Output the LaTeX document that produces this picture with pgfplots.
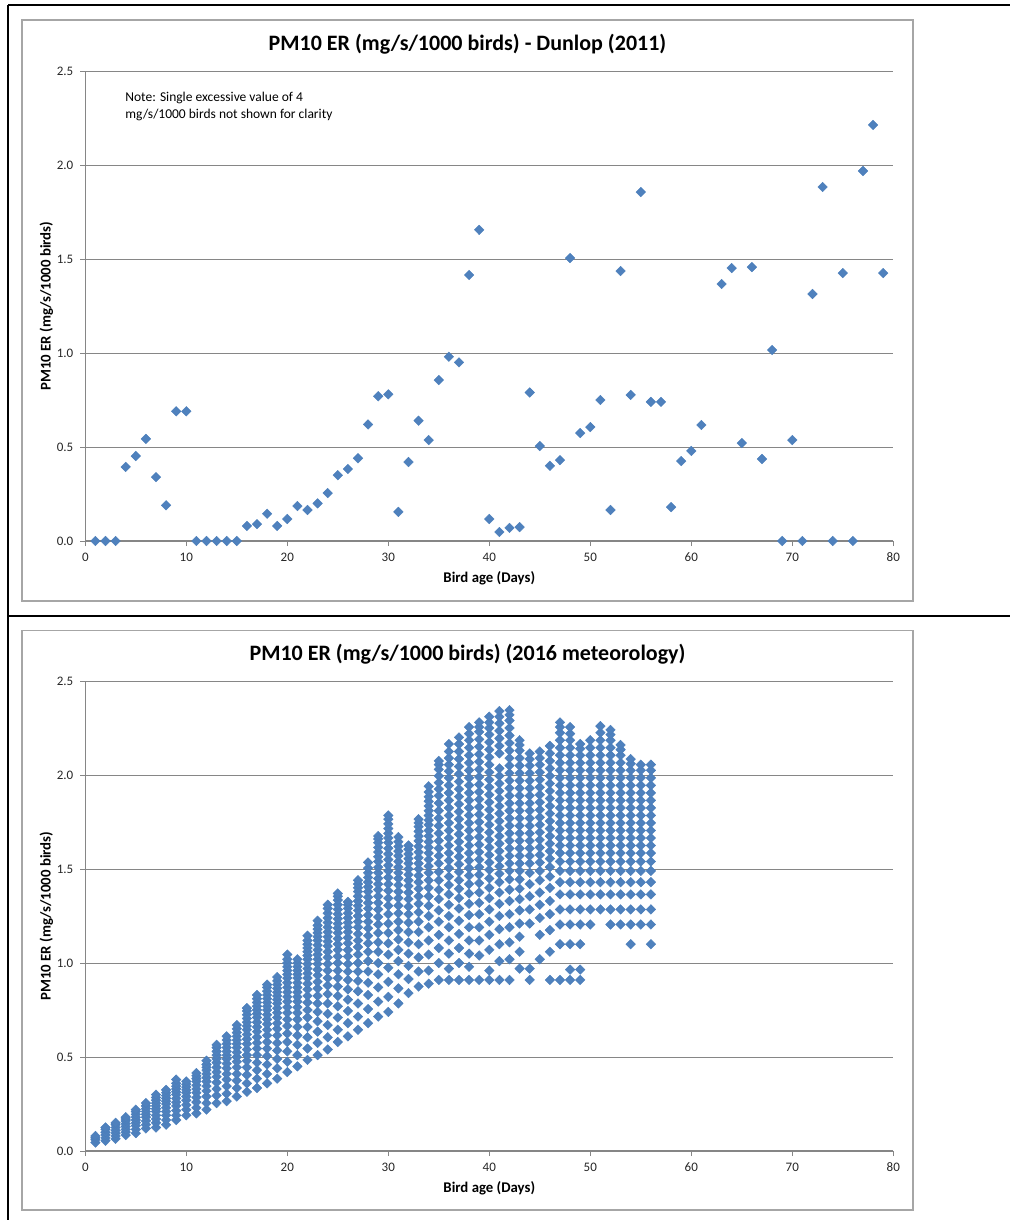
\documentclass[border=0pt]{standalone}
\usepackage{fontspec}
\setmainfont{Carlito}
\usepackage{pgfplots}
\pgfplotsset{compat=1.18}
\definecolor{mk}{HTML}{4F81BD}
\definecolor{mkedge}{HTML}{4A7EBB}
\definecolor{gridc}{HTML}{868686}
\definecolor{framec}{HTML}{A6A6A6}
\pgfplotsset{
 excel/.style={
  scale only axis, width=404pt, height=235pt,
  xmin=0,xmax=80,ymin=0,ymax=2.5, clip=false,
  axis x line*=bottom, axis y line*=left,
  axis line style={draw=gridc, line width=0.6pt, -},
  xtick={0,10,...,80}, ytick={0,0.5,...,2.5},
  tick align=outside, major tick length=2.5pt,
  tick style={draw=gridc, line width=0.5pt},
  ymajorgrids, grid style={draw=gridc, line width=0.5pt},
  yticklabel style={/pgf/number format/.cd, fixed, fixed zerofill, precision=1},
  ticklabel style={font=\fontsize{6.5}{7}\selectfont, text=black!85},
  /pgf/number format/assume math mode=true,
  title style={font=\fontsize{11}{13}\selectfont\bfseries, at={(axis description cs:0.473,1.0596)}, anchor=center, yshift=-6.5pt},
  xlabel style={font=\fontsize{7.4}{8}\selectfont\bfseries, at={(axis description cs:0.5,-0.0787)}, anchor=center},
  ylabel style={font=\fontsize{7.4}{8}\selectfont\bfseries, at={(axis description cs:-0.0483,0.5)}, anchor=center},
  xlabel={Bird age (Days)}, ylabel={PM10 ER (mg/s/1000 birds)},
 },
 dots/.style={only marks, mark=diamond*, mark size=2.4pt, mark options={xscale=1.33, fill=mk, draw=mkedge, line width=0.2pt}}
}
\begin{document}
\begin{tikzpicture}
\path[use as bounding box] (0pt,0pt) rectangle (505pt,-610pt);
\draw[framec, line width=0.7pt] (11pt,-10pt) rectangle (456.5pt,-300.5pt);
\draw[framec, line width=0.7pt] (11pt,-315.2pt) rectangle (456.5pt,-605pt);
\draw[black, line width=1.3pt] (4pt,-2.5pt) -- (505pt,-2.5pt);
\draw[black, line width=1.3pt] (4pt,-2.5pt) -- (4pt,-610pt);
\draw[black, line width=1.3pt] (4pt,-308pt) -- (505pt,-308pt);
\begin{axis}[excel, at={(42.65pt,-270.5pt)}, anchor=south west,
  title={PM10 ER (mg/s/1000 birds) - Dunlop (2011)}]
\addplot[dots] coordinates {(1,0)(2,0)(3,0)(4,0.394)(5,0.452)(6,0.543)(7,0.34)(8,0.19)(9,0.69)(10,0.69)(11,0)(12,0)(13,0)(14,0)(15,0)(16,0.08)(17,0.09)(18,0.145)(19,0.08)(20,0.117)(21,0.186)(22,0.165)(23,0.20)(24,0.255)(25,0.35)(26,0.383)(27,0.44)(28,0.62)(29,0.77)(30,0.78)(31,0.155)(32,0.42)(33,0.64)(34,0.537)(35,0.856)(36,0.98)(37,0.95)(38,1.415)(39,1.655)(40,0.117)(41,0.048)(42,0.07)(43,0.074)(44,0.79)(45,0.505)(46,0.4)(47,0.43)(48,1.505)(49,0.574)(50,0.606)(51,0.75)(52,0.165)(53,1.436)(54,0.777)(55,1.856)(56,0.74)(57,0.74)(58,0.18)(59,0.425)(60,0.479)(61,0.617)(63,1.367)(64,1.452)(65,0.521)(66,1.457)(67,0.436)(68,1.016)(69,0)(70,0.537)(71,0)(72,1.314)(73,1.883)(74,0)(75,1.425)(76,0)(77,1.968)(78,2.213)(79,1.425)};
\node[anchor=north west, align=left, font=\fontsize{6.75}{8.5}\selectfont, inner sep=0pt] at (axis cs:3.93,2.39) {Note: Single excessive value of 4\\mg/s/1000 birds not shown for clarity};
\end{axis}
\begin{axis}[excel, at={(42.65pt,-575.5pt)}, anchor=south west,
  title={PM10 ER (mg/s/1000 birds) (2016 meteorology)}]
\addplot[dots] coordinates {
(1,0.045)(1,0.06)(1,0.07)(1,0.08)
(2,0.055)(2,0.07)(2,0.085)(2,0.10)(2,0.115)(2,0.125)
(3,0.065)(3,0.08)(3,0.095)(3,0.11)(3,0.125)(3,0.14)(3,0.15)
(4,0.085)(4,0.10)(4,0.115)(4,0.13)(4,0.145)(4,0.16)(4,0.17)(4,0.18)
(5,0.095)(5,0.115)(5,0.135)(5,0.15)(5,0.165)(5,0.18)(5,0.195)(5,0.21)(5,0.22)
(6,0.12)(6,0.14)(6,0.16)(6,0.18)(6,0.195)(6,0.21)(6,0.225)(6,0.24)(6,0.255)
(7,0.125)(7,0.15)(7,0.17)(7,0.19)(7,0.21)(7,0.225)(7,0.24)(7,0.255)(7,0.27)(7,0.285)(7,0.30)
(8,0.14)(8,0.165)(8,0.19)(8,0.21)(8,0.23)(8,0.25)(8,0.265)(8,0.28)(8,0.295)(8,0.31)(8,0.325)
(9,0.165)(9,0.19)(9,0.215)(9,0.24)(9,0.26)(9,0.28)(9,0.30)(9,0.315)(9,0.33)(9,0.345)(9,0.36)(9,0.38)
(10,0.19)(10,0.22)(10,0.245)(10,0.27)(10,0.29)(10,0.31)(10,0.325)(10,0.34)(10,0.355)(10,0.37)
(11,0.20)(11,0.23)(11,0.26)(11,0.285)(11,0.31)(11,0.33)(11,0.35)(11,0.37)(11,0.385)(11,0.40)(11,0.415)
(12,0.22)(12,0.255)(12,0.29)(12,0.32)(12,0.345)(12,0.37)(12,0.39)(12,0.41)(12,0.43)(12,0.445)(12,0.46)(12,0.48)
(13,0.255)(13,0.295)(13,0.33)(13,0.365)(13,0.395)(13,0.42)(13,0.445)(13,0.47)(13,0.49)(13,0.51)(13,0.53)(13,0.55)(13,0.565)
(14,0.265)(14,0.305)(14,0.345)(14,0.38)(14,0.41)(14,0.44)(14,0.465)(14,0.49)(14,0.51)(14,0.53)(14,0.55)(14,0.57)(14,0.59)(14,0.61)
(15,0.29)(15,0.335)(15,0.375)(15,0.41)(15,0.445)(15,0.475)(15,0.50)(15,0.525)(15,0.55)(15,0.57)(15,0.59)(15,0.61)(15,0.63)(15,0.65)(15,0.67)
(16,0.315)(16,0.36)(16,0.405)(16,0.445)(16,0.48)(16,0.51)(16,0.54)(16,0.57)(16,0.595)(16,0.62)(16,0.645)(16,0.665)(16,0.685)(16,0.705)(16,0.725)(16,0.745)(16,0.76)
(17,0.335)(17,0.385)(17,0.43)(17,0.47)(17,0.51)(17,0.545)(17,0.575)(17,0.605)(17,0.635)(17,0.66)(17,0.685)(17,0.71)(17,0.73)(17,0.75)(17,0.77)(17,0.79)(17,0.81)(17,0.83)
(18,0.36)(18,0.41)(18,0.46)(18,0.505)(18,0.545)(18,0.58)(18,0.615)(18,0.645)(18,0.675)(18,0.70)(18,0.725)(18,0.75)(18,0.77)(18,0.79)(18,0.81)(18,0.83)(18,0.85)(18,0.87)(18,0.885)
(19,0.385)(19,0.44)(19,0.49)(19,0.535)(19,0.575)(19,0.615)(19,0.65)(19,0.68)(19,0.71)(19,0.735)(19,0.76)(19,0.785)(19,0.805)(19,0.825)(19,0.845)(19,0.865)(19,0.885)(19,0.905)(19,0.925)
(20,0.42)(20,0.475)(20,0.53)(20,0.58)(20,0.625)(20,0.665)(20,0.70)(20,0.735)(20,0.765)(20,0.795)(20,0.82)(20,0.845)(20,0.87)(20,0.895)(20,0.92)(20,0.94)(20,0.96)(20,0.98)(20,1.00)(20,1.02)(20,1.045)
(21,0.45)(21,0.51)(21,0.565)(21,0.615)(21,0.66)(21,0.70)(21,0.735)(21,0.765)(21,0.795)(21,0.82)(21,0.845)(21,0.87)(21,0.895)(21,0.92)(21,0.94)(21,0.96)(21,0.98)(21,1.00)(21,1.02)
(22,0.485)(22,0.545)(22,0.605)(22,0.66)(22,0.71)(22,0.75)(22,0.79)(22,0.825)(22,0.86)(22,0.89)(22,0.92)(22,0.945)(22,0.97)(22,0.995)(22,1.02)(22,1.04)(22,1.06)(22,1.08)(22,1.10)(22,1.12)(22,1.145)
(23,0.51)(23,0.575)(23,0.635)(23,0.69)(23,0.74)(23,0.785)(23,0.825)(23,0.865)(23,0.90)(23,0.935)(23,0.965)(23,0.995)(23,1.02)(23,1.045)(23,1.07)(23,1.095)(23,1.12)(23,1.14)(23,1.16)(23,1.18)(23,1.20)(23,1.225)
(24,0.54)(24,0.605)(24,0.67)(24,0.73)(24,0.785)(24,0.835)(24,0.88)(24,0.92)(24,0.96)(24,0.995)(24,1.03)(24,1.06)(24,1.09)(24,1.115)(24,1.14)(24,1.165)(24,1.19)(24,1.215)(24,1.24)(24,1.265)(24,1.29)(24,1.31)
(25,0.58)(25,0.645)(25,0.71)(25,0.77)(25,0.825)(25,0.875)(25,0.92)(25,0.96)(25,1.00)(25,1.035)(25,1.07)(25,1.10)(25,1.13)(25,1.16)(25,1.185)(25,1.21)(25,1.235)(25,1.26)(25,1.285)(25,1.31)(25,1.335)(25,1.355)(25,1.37)
(26,0.61)(26,0.68)(26,0.745)(26,0.805)(26,0.86)(26,0.91)(26,0.955)(26,0.995)(26,1.035)(26,1.07)(26,1.105)(26,1.135)(26,1.165)(26,1.19)(26,1.215)(26,1.24)(26,1.265)(26,1.29)(26,1.31)(26,1.325)
(27,0.645)(27,0.715)(27,0.785)(27,0.85)(27,0.905)(27,0.955)(27,1.00)(27,1.045)(27,1.085)(27,1.12)(27,1.155)(27,1.19)(27,1.22)(27,1.25)(27,1.28)(27,1.305)(27,1.33)(27,1.355)(27,1.38)(27,1.40)(27,1.42)(27,1.44)
(28,0.68)(28,0.755)(28,0.83)(28,0.895)(28,0.955)(28,1.01)(28,1.06)(28,1.105)(28,1.145)(28,1.185)(28,1.22)(28,1.255)(28,1.29)(28,1.32)(28,1.35)(28,1.38)(28,1.405)(28,1.43)(28,1.455)(28,1.48)(28,1.505)(28,1.535)
(29,0.715)(29,0.795)(29,0.87)(29,0.94)(29,1.00)(29,1.06)(29,1.11)(29,1.16)(29,1.205)(29,1.245)(29,1.285)(29,1.32)(29,1.355)(29,1.39)(29,1.42)(29,1.45)(29,1.48)(29,1.51)(29,1.54)(29,1.565)(29,1.59)(29,1.615)(29,1.64)(29,1.66)(29,1.675)
(30,0.74)(30,0.82)(30,0.90)(30,0.975)(30,1.045)(30,1.105)(30,1.16)(30,1.21)(30,1.26)(30,1.305)(30,1.345)(30,1.385)(30,1.42)(30,1.455)(30,1.49)(30,1.52)(30,1.55)(30,1.58)(30,1.61)(30,1.64)(30,1.665)(30,1.69)(30,1.715)(30,1.74)(30,1.765)(30,1.785)
(31,0.785)(31,0.865)(31,0.94)(31,1.01)(31,1.07)(31,1.125)(31,1.175)(31,1.22)(31,1.265)(31,1.305)(31,1.345)(31,1.38)(31,1.415)(31,1.45)(31,1.48)(31,1.51)(31,1.54)(31,1.57)(31,1.595)(31,1.62)(31,1.645)(31,1.67)
(32,0.84)(32,0.915)(32,0.985)(32,1.05)(32,1.11)(32,1.165)(32,1.215)(32,1.26)(32,1.30)(32,1.34)(32,1.375)(32,1.41)(32,1.44)(32,1.47)(32,1.50)(32,1.53)(32,1.555)(32,1.58)(32,1.605)(32,1.625)
(33,0.875)(33,0.955)(33,1.03)(33,1.10)(33,1.165)(33,1.22)(33,1.27)(33,1.315)(33,1.355)(33,1.395)(33,1.43)(33,1.465)(33,1.50)(33,1.53)(33,1.56)(33,1.59)(33,1.62)(33,1.65)(33,1.675)(33,1.70)(33,1.725)(33,1.745)(33,1.765)
(34,0.89)(34,0.96)(34,1.045)(34,1.12)(34,1.19)(34,1.25)(34,1.305)(34,1.355)(34,1.40)(34,1.44)(34,1.48)(34,1.515)(34,1.55)(34,1.585)(34,1.615)(34,1.645)(34,1.675)(34,1.705)(34,1.735)(34,1.76)(34,1.785)(34,1.81)(34,1.835)(34,1.86)(34,1.885)(34,1.91)(34,1.94)
(35,0.91)(35,1.00)(35,1.08)(35,1.15)(35,1.22)(35,1.28)(35,1.34)(35,1.39)(35,1.44)(35,1.485)(35,1.53)(35,1.57)(35,1.61)(35,1.65)(35,1.69)(35,1.73)(35,1.77)(35,1.81)(35,1.85)(35,1.89)(35,1.925)(35,1.96)(35,1.995)(35,2.03)(35,2.055)(35,2.075)
(36,0.91)(36,0.97)(36,1.05)(36,1.12)(36,1.19)(36,1.25)(36,1.31)(36,1.365)(36,1.415)(36,1.46)(36,1.505)(36,1.545)(36,1.585)(36,1.625)(36,1.665)(36,1.705)(36,1.745)(36,1.785)(36,1.825)(36,1.865)(36,1.905)(36,1.945)(36,1.985)(36,2.02)(36,2.055)(36,2.09)(36,2.125)(36,2.165)
(37,0.91)(37,1.00)(37,1.08)(37,1.155)(37,1.225)(37,1.29)(37,1.345)(37,1.395)(37,1.44)(37,1.485)(37,1.525)(37,1.565)(37,1.605)(37,1.645)(37,1.685)(37,1.725)(37,1.765)(37,1.805)(37,1.845)(37,1.885)(37,1.925)(37,1.965)(37,2.005)(37,2.045)(37,2.085)(37,2.125)(37,2.165)(37,2.20)
(38,0.91)(38,0.98)(38,1.05)(38,1.12)(38,1.19)(38,1.255)(38,1.315)(38,1.37)(38,1.42)(38,1.465)(38,1.505)(38,1.545)(38,1.585)(38,1.625)(38,1.665)(38,1.705)(38,1.745)(38,1.785)(38,1.825)(38,1.865)(38,1.905)(38,1.945)(38,1.985)(38,2.025)(38,2.065)(38,2.105)(38,2.145)(38,2.185)(38,2.22)(38,2.255)
(39,0.91)(39,1.04)(39,1.12)(39,1.19)(39,1.26)(39,1.32)(39,1.375)(39,1.425)(39,1.47)(39,1.51)(39,1.55)(39,1.59)(39,1.63)(39,1.67)(39,1.71)(39,1.75)(39,1.79)(39,1.83)(39,1.87)(39,1.91)(39,1.95)(39,1.99)(39,2.03)(39,2.07)(39,2.11)(39,2.15)(39,2.19)(39,2.23)(39,2.255)(39,2.28)
(40,0.91)(40,0.96)(40,1.07)(40,1.15)(40,1.22)(40,1.285)(40,1.345)(40,1.40)(40,1.45)(40,1.495)(40,1.535)(40,1.575)(40,1.615)(40,1.655)(40,1.695)(40,1.735)(40,1.775)(40,1.815)(40,1.855)(40,1.895)(40,1.935)(40,1.975)(40,2.015)(40,2.055)(40,2.095)(40,2.135)(40,2.175)(40,2.215)(40,2.25)(40,2.28)(40,2.31)
(41,0.91)(41,1.01)(41,1.10)(41,1.18)(41,1.25)(41,1.315)(41,1.375)(41,1.43)(41,1.475)(41,1.515)(41,1.555)(41,1.595)(41,1.635)(41,1.675)(41,1.715)(41,1.755)(41,1.795)(41,1.835)(41,1.875)(41,1.915)(41,1.955)(41,1.995)(41,2.035)(41,2.115)(41,2.155)(41,2.195)(41,2.235)(41,2.275)(41,2.31)(41,2.34)
(42,0.91)(42,1.02)(42,1.11)(42,1.19)(42,1.26)(42,1.33)(42,1.39)(42,1.445)(42,1.49)(42,1.53)(42,1.57)(42,1.61)(42,1.65)(42,1.69)(42,1.73)(42,1.77)(42,1.81)(42,1.85)(42,1.89)(42,1.93)(42,1.97)(42,2.01)(42,2.05)(42,2.09)(42,2.13)(42,2.17)(42,2.21)(42,2.25)(42,2.29)(42,2.32)(42,2.345)
(43,0.97)(43,1.06)(43,1.14)(43,1.21)(43,1.28)(43,1.34)(43,1.395)(43,1.445)(43,1.49)(43,1.53)(43,1.57)(43,1.61)(43,1.65)(43,1.69)(43,1.73)(43,1.77)(43,1.81)(43,1.85)(43,1.89)(43,1.93)(43,1.97)(43,2.01)(43,2.05)(43,2.09)(43,2.13)(43,2.16)(43,2.185)
(44,0.91)(44,0.97)(44,1.21)(44,1.285)(44,1.355)(44,1.42)(44,1.48)(44,1.53)(44,1.57)(44,1.61)(44,1.65)(44,1.69)(44,1.73)(44,1.77)(44,1.81)(44,1.85)(44,1.89)(44,1.93)(44,1.97)(44,2.01)(44,2.05)(44,2.085)(44,2.115)
(45,1.02)(45,1.15)(45,1.24)(45,1.31)(45,1.375)(45,1.44)(45,1.49)(45,1.535)(45,1.575)(45,1.615)(45,1.655)(45,1.695)(45,1.735)(45,1.775)(45,1.815)(45,1.855)(45,1.895)(45,1.935)(45,1.975)(45,2.015)(45,2.055)(45,2.09)(45,2.125)
(46,0.91)(46,1.06)(46,1.175)(46,1.26)(46,1.33)(46,1.40)(46,1.46)(46,1.51)(46,1.555)(46,1.595)(46,1.635)(46,1.675)(46,1.715)(46,1.755)(46,1.795)(46,1.835)(46,1.875)(46,1.915)(46,1.955)(46,1.995)(46,2.035)(46,2.075)(46,2.115)(46,2.155)
(47,0.91)(47,1.10)(47,1.205)(47,1.285)(47,1.365)(47,1.43)(47,1.49)(47,1.54)(47,1.585)(47,1.625)(47,1.665)(47,1.705)(47,1.745)(47,1.785)(47,1.825)(47,1.865)(47,1.905)(47,1.945)(47,1.985)(47,2.025)(47,2.065)(47,2.105)(47,2.145)(47,2.185)(47,2.225)(47,2.255)(47,2.28)
(48,0.91)(48,0.965)(48,1.10)(48,1.205)(48,1.285)(48,1.365)(48,1.43)(48,1.49)(48,1.54)(48,1.585)(48,1.625)(48,1.665)(48,1.705)(48,1.745)(48,1.785)(48,1.825)(48,1.865)(48,1.905)(48,1.945)(48,1.985)(48,2.025)(48,2.065)(48,2.105)(48,2.145)(48,2.185)(48,2.22)(48,2.255)
(49,0.91)(49,0.965)(49,1.10)(49,1.205)(49,1.285)(49,1.365)(49,1.43)(49,1.49)(49,1.54)(49,1.585)(49,1.625)(49,1.665)(49,1.705)(49,1.745)(49,1.785)(49,1.825)(49,1.865)(49,1.905)(49,1.945)(49,1.985)(49,2.025)(49,2.065)(49,2.105)(49,2.14)(49,2.165)
(50,1.205)(50,1.285)(50,1.365)(50,1.43)(50,1.49)(50,1.54)(50,1.585)(50,1.625)(50,1.665)(50,1.705)(50,1.745)(50,1.785)(50,1.825)(50,1.865)(50,1.905)(50,1.945)(50,1.985)(50,2.025)(50,2.065)(50,2.105)(50,2.145)(50,2.185)
(51,1.285)(51,1.365)(51,1.43)(51,1.49)(51,1.54)(51,1.585)(51,1.625)(51,1.665)(51,1.705)(51,1.745)(51,1.785)(51,1.825)(51,1.865)(51,1.905)(51,1.945)(51,1.985)(51,2.025)(51,2.065)(51,2.105)(51,2.145)(51,2.185)(51,2.225)(51,2.26)
(52,1.205)(52,1.285)(52,1.365)(52,1.43)(52,1.49)(52,1.54)(52,1.585)(52,1.625)(52,1.665)(52,1.705)(52,1.745)(52,1.785)(52,1.825)(52,1.865)(52,1.905)(52,1.945)(52,1.985)(52,2.025)(52,2.065)(52,2.105)(52,2.145)(52,2.185)(52,2.215)(52,2.24)
(53,1.205)(53,1.285)(53,1.365)(53,1.43)(53,1.49)(53,1.54)(53,1.585)(53,1.625)(53,1.665)(53,1.705)(53,1.745)(53,1.785)(53,1.825)(53,1.865)(53,1.905)(53,1.945)(53,1.985)(53,2.025)(53,2.065)(53,2.105)(53,2.135)(53,2.16)
(54,1.10)(54,1.205)(54,1.285)(54,1.365)(54,1.43)(54,1.49)(54,1.54)(54,1.585)(54,1.625)(54,1.665)(54,1.705)(54,1.745)(54,1.785)(54,1.825)(54,1.865)(54,1.905)(54,1.945)(54,1.985)(54,2.025)(54,2.06)(54,2.085)
(55,1.205)(55,1.285)(55,1.365)(55,1.43)(55,1.49)(55,1.54)(55,1.585)(55,1.625)(55,1.665)(55,1.705)(55,1.745)(55,1.785)(55,1.825)(55,1.865)(55,1.905)(55,1.945)(55,1.985)(55,2.025)(55,2.055)
(56,1.10)(56,1.205)(56,1.285)(56,1.365)(56,1.43)(56,1.49)(56,1.54)(56,1.585)(56,1.625)(56,1.665)(56,1.705)(56,1.745)(56,1.785)(56,1.825)(56,1.865)(56,1.905)(56,1.945)(56,1.985)(56,2.025)(56,2.055)
};
\end{axis}
\end{tikzpicture}
\end{document}
